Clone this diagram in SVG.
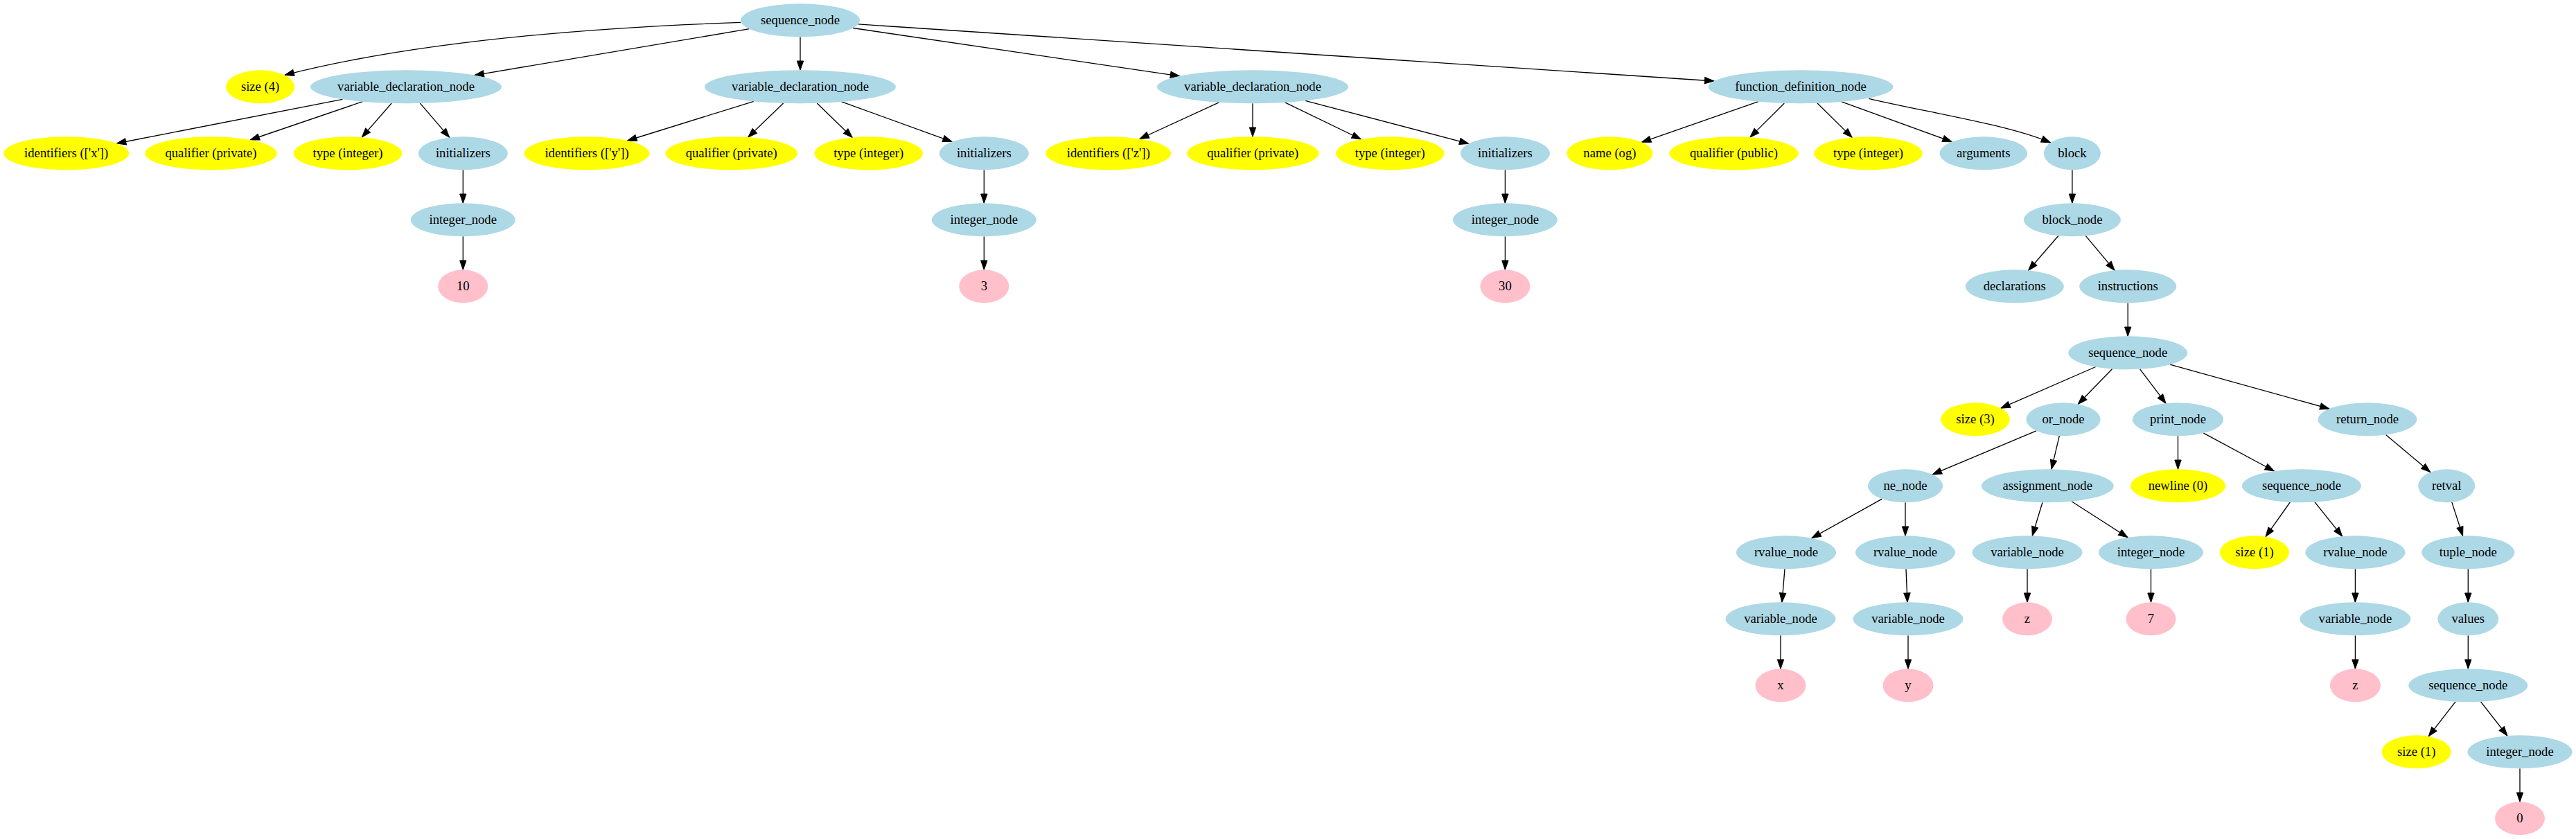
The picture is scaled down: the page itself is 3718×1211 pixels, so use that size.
<svg xmlns="http://www.w3.org/2000/svg" width="3718" height="1211" viewBox="0 0 3718 1211">
<style>
.b{fill:#add8e6}
.y{fill:#ffff00}
.p{fill:#ffc0cb}
text{font-family:"Liberation Serif","Times New Roman",serif;font-size:18.67px;fill:#000;text-anchor:middle}
.e{fill:none;stroke:#000;stroke-width:1.33;marker-end:url(#ah)}
</style>
<defs>
<marker id="ah" markerUnits="userSpaceOnUse" viewBox="-2 -7 18 14" markerWidth="18" markerHeight="14" refX="13.33" refY="0" orient="auto">
<path d="M0,-4.67 L13.33,0 L0,4.67 Z" fill="#000" stroke="#000" stroke-width="1"/>
</marker>
</defs>
<rect width="3718" height="1211" fill="#fff"/>
<g id="connectors">
<path class="e" d="M1069,32.3 C850,40 600,60 411,108.3"/>
<path class="e" d="M1081.4,41.7 L685,108.6"/>
<path class="e" d="M1155,53.33 L1155,101.33"/>
<path class="e" d="M1231.1,40.5 L1702.6,109.8"/>
<path class="e" d="M1238.6,34.9 L2473.8,117"/>
<path class="e" d="M494.4,143.3 L168.5,207"/>
<path class="e" d="M523.3,146.7 L361.1,202"/>
<path class="e" d="M565.2,149 L522.3,198.1"/>
<path class="e" d="M606.4,149.1 L648.7,198.4"/>
<path class="e" d="M668.3,245.33 L668.3,293.33"/>
<path class="e" d="M668.3,341.33 L668.3,389.33"/>
<path class="e" d="M1087.8,146.3 L905.6,203"/>
<path class="e" d="M1130.6,149 L1079.7,198.1"/>
<path class="e" d="M1179.3,149 L1230.2,198.4"/>
<path class="e" d="M1214.8,146.9 L1374.1,204.6"/>
<path class="e" d="M1420.3,245.33 L1420.3,293.33"/>
<path class="e" d="M1420.3,341.33 L1420.3,389.33"/>
<path class="e" d="M1759.3,147.8 L1644.9,200.5"/>
<path class="e" d="M1808,149.33 L1808,197.33"/>
<path class="e" d="M1854.7,147.9 L1964.4,201"/>
<path class="e" d="M1884,145.3 L2119.8,207.4"/>
<path class="e" d="M2172.4,245.33 L2172.4,293.33"/>
<path class="e" d="M2172.4,341.33 L2172.4,389.33"/>
<path class="e" d="M2537.8,146.7 L2369.5,205.3"/>
<path class="e" d="M2575.3,149 L2525.9,198.1"/>
<path class="e" d="M2623,149 L2673.2,198.4"/>
<path class="e" d="M2658.1,146.8 L2817.1,204.7"/>
<path class="e" d="M2697.5,142.3 C2780,162 2900,180 2959.5,206"/>
<path class="e" d="M2990.9,245.33 L2990.9,293.33"/>
<path class="e" d="M2971,340.3 L2927.7,390.3"/>
<path class="e" d="M3010.3,340.4 L3052.1,390.3"/>
<path class="e" d="M3071.2,437.33 L3071.2,485.33"/>
<path class="e" d="M3024.7,529.5 L2887.9,589.2"/>
<path class="e" d="M3048.6,532.5 L2999.3,583.3"/>
<path class="e" d="M3088.7,532.8 L3126,582.2"/>
<path class="e" d="M3132,526.2 L3361.9,590"/>
<path class="e" d="M2939,621.8 L2789.2,684.8"/>
<path class="e" d="M2972.3,629.2 L2960.9,677.3"/>
<path class="e" d="M3143.5,629.33 L3143.5,677.33"/>
<path class="e" d="M3180.4,625.2 L3282.4,680"/>
<path class="e" d="M3443.5,627.6 L3507.8,681.6"/>
<path class="e" d="M2716.4,720.1 L2614.9,776.7"/>
<path class="e" d="M2750,725.33 L2750,773.33"/>
<path class="e" d="M2947.9,725.3 L2933.3,773.4"/>
<path class="e" d="M2990,723.7 L3071,775.8"/>
<path class="e" d="M3305.3,724.9 L3270.1,774.6"/>
<path class="e" d="M3340.9,724.7 L3380.7,774.2"/>
<path class="e" d="M3538.8,724.9 L3554.6,773.5"/>
<path class="e" d="M2576,821.3 L2572,869.3"/>
<path class="e" d="M2751,821.3 L2753,869.3"/>
<path class="e" d="M2926,821.33 L2926,869.33"/>
<path class="e" d="M3104.5,821.33 L3104.5,869.33"/>
<path class="e" d="M3399.4,821.33 L3399.4,869.33"/>
<path class="e" d="M3562.3,821.33 L3562.3,869.33"/>
<path class="e" d="M2570,917.33 L2570,965.33"/>
<path class="e" d="M2754,917.33 L2754,965.33"/>
<path class="e" d="M3399.4,917.33 L3399.4,965.33"/>
<path class="e" d="M3562.3,917.33 L3562.3,965.33"/>
<path class="e" d="M3544.1,1012.8 L3505.2,1062.8"/>
<path class="e" d="M3580.5,1012.8 L3618.9,1062"/>
<path class="e" d="M3637,1109.33 L3637,1157.33"/>
</g>
<g id="n0"><ellipse class="b" cx="1155" cy="29.33" rx="86" ry="24"/><text x="1155" y="35.33">sequence_node</text></g>
<g id="n1"><ellipse class="y" cx="375.6" cy="125.33" rx="49.5" ry="24"/><text x="375.6" y="131.33">size (4)</text></g>
<g id="n2"><ellipse class="b" cx="586" cy="125.33" rx="138" ry="24"/><text x="586" y="131.33">variable_declaration_node</text></g>
<g id="n3"><ellipse class="b" cx="1155" cy="125.33" rx="138" ry="24"/><text x="1155" y="131.33">variable_declaration_node</text></g>
<g id="n4"><ellipse class="b" cx="1808" cy="125.33" rx="138" ry="24"/><text x="1808" y="131.33">variable_declaration_node</text></g>
<g id="n5"><ellipse class="b" cx="2599" cy="125.33" rx="133.5" ry="24"/><text x="2599" y="131.33">function_definition_node</text></g>
<g id="n6"><ellipse class="y" cx="95.7" cy="221.33" rx="90.5" ry="24"/><text x="95.7" y="227.33">identifiers (['x'])</text></g>
<g id="n7"><ellipse class="y" cx="304.5" cy="221.33" rx="95.3" ry="24"/><text x="304.5" y="227.33">qualifier (private)</text></g>
<g id="n8"><ellipse class="y" cx="502" cy="221.33" rx="78.2" ry="24"/><text x="502" y="227.33">type (integer)</text></g>
<g id="n9"><ellipse class="b" cx="668.3" cy="221.33" rx="64.5" ry="24"/><text x="668.3" y="227.33">initializers</text></g>
<g id="n10"><ellipse class="y" cx="847" cy="221.33" rx="90.5" ry="24"/><text x="847" y="227.33">identifiers (['y'])</text></g>
<g id="n11"><ellipse class="y" cx="1055.7" cy="221.33" rx="95.3" ry="24"/><text x="1055.7" y="227.33">qualifier (private)</text></g>
<g id="n12"><ellipse class="y" cx="1253.7" cy="221.33" rx="78.2" ry="24"/><text x="1253.7" y="227.33">type (integer)</text></g>
<g id="n13"><ellipse class="b" cx="1420.3" cy="221.33" rx="64.5" ry="24"/><text x="1420.3" y="227.33">initializers</text></g>
<g id="n14"><ellipse class="y" cx="1599.8" cy="221.33" rx="90.5" ry="24"/><text x="1599.8" y="227.33">identifiers (['z'])</text></g>
<g id="n15"><ellipse class="y" cx="1808.3" cy="221.33" rx="95.3" ry="24"/><text x="1808.3" y="227.33">qualifier (private)</text></g>
<g id="n16"><ellipse class="y" cx="2006.3" cy="221.33" rx="78.2" ry="24"/><text x="2006.3" y="227.33">type (integer)</text></g>
<g id="n17"><ellipse class="b" cx="2172.4" cy="221.33" rx="64.5" ry="24"/><text x="2172.4" y="227.33">initializers</text></g>
<g id="n18"><ellipse class="y" cx="2323.4" cy="221.33" rx="62" ry="24"/><text x="2323.4" y="227.33">name (og)</text></g>
<g id="n19"><ellipse class="y" cx="2502.5" cy="221.33" rx="93.3" ry="24"/><text x="2502.5" y="227.33">qualifier (public)</text></g>
<g id="n20"><ellipse class="y" cx="2696.5" cy="221.33" rx="78.2" ry="24"/><text x="2696.5" y="227.33">type (integer)</text></g>
<g id="n21"><ellipse class="b" cx="2862.8" cy="221.33" rx="63.3" ry="24"/><text x="2862.8" y="227.33">arguments</text></g>
<g id="n22"><ellipse class="b" cx="2990.9" cy="221.33" rx="41" ry="24"/><text x="2990.9" y="227.33">block</text></g>
<g id="n23"><ellipse class="b" cx="668.3" cy="317.33" rx="75.5" ry="24"/><text x="668.3" y="323.33">integer_node</text></g>
<g id="n24"><ellipse class="b" cx="1420.3" cy="317.33" rx="75.5" ry="24"/><text x="1420.3" y="323.33">integer_node</text></g>
<g id="n25"><ellipse class="b" cx="2172.4" cy="317.33" rx="75.5" ry="24"/><text x="2172.4" y="323.33">integer_node</text></g>
<g id="n26"><ellipse class="b" cx="2990.9" cy="317.33" rx="70" ry="24"/><text x="2990.9" y="323.33">block_node</text></g>
<g id="n27"><ellipse class="p" cx="668.3" cy="413.33" rx="36" ry="24"/><text x="668.3" y="419.33">10</text></g>
<g id="n28"><ellipse class="p" cx="1420.3" cy="413.33" rx="36" ry="24"/><text x="1420.3" y="419.33">3</text></g>
<g id="n29"><ellipse class="p" cx="2172.4" cy="413.33" rx="36" ry="24"/><text x="2172.4" y="419.33">30</text></g>
<g id="n30"><ellipse class="b" cx="2907.8" cy="413.33" rx="71" ry="24"/><text x="2907.8" y="419.33">declarations</text></g>
<g id="n31"><ellipse class="b" cx="3071.2" cy="413.33" rx="70" ry="24"/><text x="3071.2" y="419.33">instructions</text></g>
<g id="n32"><ellipse class="b" cx="3071.2" cy="509.33" rx="86" ry="24"/><text x="3071.2" y="515.33">sequence_node</text></g>
<g id="n33"><ellipse class="y" cx="2851" cy="605.33" rx="49.7" ry="24"/><text x="2851" y="611.33">size (3)</text></g>
<g id="n34"><ellipse class="b" cx="2978" cy="605.33" rx="53.5" ry="24"/><text x="2978" y="611.33">or_node</text></g>
<g id="n35"><ellipse class="b" cx="3143.5" cy="605.33" rx="65.6" ry="24"/><text x="3143.5" y="611.33">print_node</text></g>
<g id="n36"><ellipse class="b" cx="3417" cy="605.33" rx="71.4" ry="24"/><text x="3417" y="611.33">return_node</text></g>
<g id="n37"><ellipse class="b" cx="2750" cy="701.33" rx="54" ry="24"/><text x="2750" y="707.33">ne_node</text></g>
<g id="n38"><ellipse class="b" cx="2955.2" cy="701.33" rx="95.5" ry="24"/><text x="2955.2" y="707.33">assignment_node</text></g>
<g id="n39"><ellipse class="y" cx="3143.5" cy="701.33" rx="68.5" ry="24"/><text x="3143.5" y="707.33">newline (0)</text></g>
<g id="n40"><ellipse class="b" cx="3322" cy="701.33" rx="86" ry="24"/><text x="3322" y="707.33">sequence_node</text></g>
<g id="n41"><ellipse class="b" cx="3531.2" cy="701.33" rx="41" ry="24"/><text x="3531.2" y="707.33">retval</text></g>
<g id="n42"><ellipse class="b" cx="2578" cy="797.33" rx="72" ry="24"/><text x="2578" y="803.33">rvalue_node</text></g>
<g id="n43"><ellipse class="b" cx="2750" cy="797.33" rx="72" ry="24"/><text x="2750" y="803.33">rvalue_node</text></g>
<g id="n44"><ellipse class="b" cx="2926" cy="797.33" rx="79.5" ry="24"/><text x="2926" y="803.33">variable_node</text></g>
<g id="n45"><ellipse class="b" cx="3104.5" cy="797.33" rx="75.5" ry="24"/><text x="3104.5" y="803.33">integer_node</text></g>
<g id="n46"><ellipse class="y" cx="3254" cy="797.33" rx="50" ry="24"/><text x="3254" y="803.33">size (1)</text></g>
<g id="n47"><ellipse class="b" cx="3399.4" cy="797.33" rx="72" ry="24"/><text x="3399.4" y="803.33">rvalue_node</text></g>
<g id="n48"><ellipse class="b" cx="3562.3" cy="797.33" rx="67" ry="24"/><text x="3562.3" y="803.33">tuple_node</text></g>
<g id="n49"><ellipse class="b" cx="2570" cy="893.33" rx="79.5" ry="24"/><text x="2570" y="899.33">variable_node</text></g>
<g id="n50"><ellipse class="b" cx="2754" cy="893.33" rx="79.5" ry="24"/><text x="2754" y="899.33">variable_node</text></g>
<g id="n51"><ellipse class="p" cx="2926" cy="893.33" rx="36" ry="24"/><text x="2926" y="899.33">z</text></g>
<g id="n52"><ellipse class="p" cx="3104.5" cy="893.33" rx="36" ry="24"/><text x="3104.5" y="899.33">7</text></g>
<g id="n53"><ellipse class="b" cx="3399.4" cy="893.33" rx="80" ry="24"/><text x="3399.4" y="899.33">variable_node</text></g>
<g id="n54"><ellipse class="b" cx="3562.3" cy="893.33" rx="44" ry="24"/><text x="3562.3" y="899.33">values</text></g>
<g id="n55"><ellipse class="p" cx="2570" cy="989.33" rx="36.5" ry="24"/><text x="2570" y="995.33">x</text></g>
<g id="n56"><ellipse class="p" cx="2754" cy="989.33" rx="36.5" ry="24"/><text x="2754" y="995.33">y</text></g>
<g id="n57"><ellipse class="p" cx="3399.4" cy="989.33" rx="36.5" ry="24"/><text x="3399.4" y="995.33">z</text></g>
<g id="n58"><ellipse class="b" cx="3562.3" cy="989.33" rx="86" ry="24"/><text x="3562.3" y="995.33">sequence_node</text></g>
<g id="n59"><ellipse class="y" cx="3487.7" cy="1085.33" rx="50" ry="24"/><text x="3487.7" y="1091.33">size (1)</text></g>
<g id="n60"><ellipse class="b" cx="3637" cy="1085.33" rx="75.6" ry="24"/><text x="3637" y="1091.33">integer_node</text></g>
<g id="n61"><ellipse class="p" cx="3637" cy="1181.33" rx="36" ry="24"/><text x="3637" y="1187.33">0</text></g>
</svg>
